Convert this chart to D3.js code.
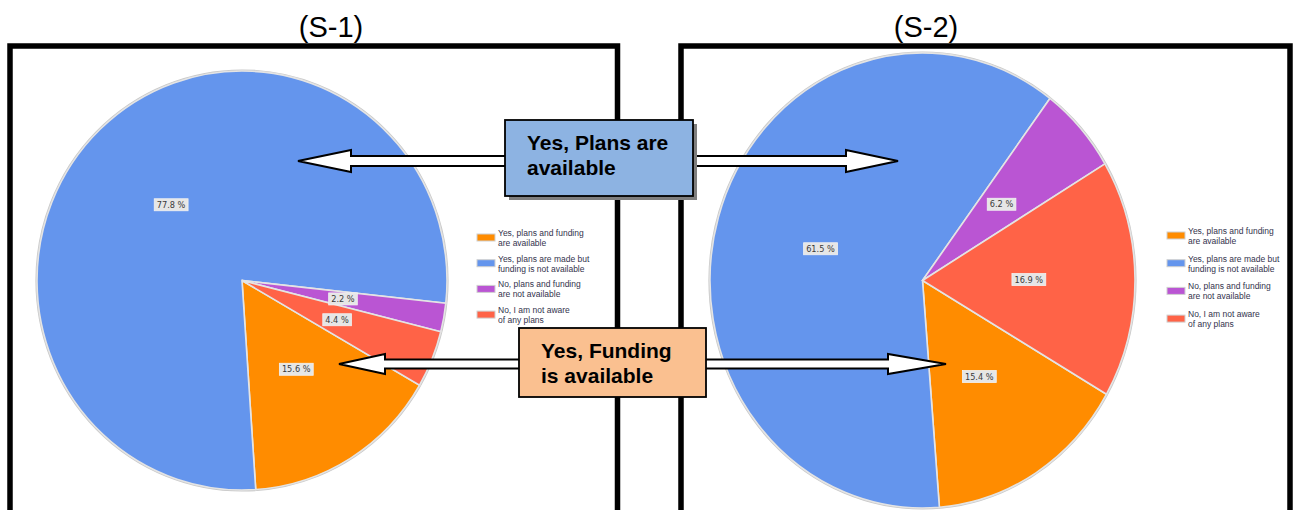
<!DOCTYPE html>
<html>
<head>
<meta charset="utf-8">
<script src="https://cdn.jsdelivr.net/npm/d3@7"></script>
<style>
  html, body { margin: 0; padding: 0; background: #ffffff; }
  svg { display: block; }
</style>
</head>
<body>
<svg id="chart" width="1294" height="510"></svg>
<script>
// ---------------- DATA ----------------
const categories = [
  "Yes, plans and funding are available",
  "Yes, plans are made but funding is not available",
  "No, plans and funding are not available",
  "No, I am not aware of any plans"
];
const legendLines = [
  ["Yes, plans and funding", "are available"],
  ["Yes, plans are made but", "funding is not available"],
  ["No, plans and funding", "are not available"],
  ["No, I am not aware", "of any plans"]
];
const s1Values = [15.6, 77.8, 2.2, 4.4];
const s2Values = [15.4, 61.5, 6.2, 16.9];
const panelTitles = ["(S-1)", "(S-2)"];
const plansCallout = ["Yes, Plans are", "available"];
const fundingCallout = ["Yes, Funding", "is available"];

// ---------------- STYLE / LAYOUT ----------------
const colors = ["#FF8C00", "#6495ED", "#BA55D3", "#FF6347"];
const color = d3.scaleOrdinal().domain(categories).range(colors);

const panels = [
  { values: s1Values, title: panelTitles[0], titleX: 331,
    frame: { x0: 10, x1: 617.5 },
    cx: 242, cy: 280.5, rx: 205, ry: 209.5, start: 120,
    legend: { x: 477, y: 234, step: 25.7 } },
  { values: s2Values, title: panelTitles[1], titleX: 926,
    frame: { x0: 681, x1: 1290 },
    cx: 922.5, cy: 280.5, rx: 212.5, ry: 227.5, start: 120,
    legend: { x: 1167, y: 232, step: 27.7 } }
];

const svg = d3.select("#chart");
const W = 1294, H = 510;
const frameTop = 46;

// frames
panels.forEach(p => {
  svg.append("path")
    .attr("d", `M${p.frame.x0},${H + 5} V${frameTop} H${p.frame.x1} V${H + 5}`)
    .attr("fill", "none")
    .attr("stroke", "#000")
    .attr("stroke-width", 5.5)
    .attr("stroke-linejoin", "miter");
  svg.append("text")
    .attr("x", p.titleX)
    .attr("y", 37)
    .attr("text-anchor", "middle")
    .attr("font-family", "Liberation Sans, Arial, sans-serif")
    .attr("font-size", 29)
    .attr("fill", "#000")
    .text(p.title);
});

// pies
panels.forEach(p => {
  const pie = d3.pie().sort(null)
    .startAngle(p.start * Math.PI / 180)
    .endAngle(p.start * Math.PI / 180 + 2 * Math.PI);
  const arcs = pie(p.values.map((v, i) => ({ cat: categories[i], value: v })).map(d => d.value));
  const arc = d3.arc().innerRadius(0).outerRadius(p.rx);
  const sy = p.ry / p.rx;

  const g = svg.append("g").attr("transform", `translate(${p.cx},${p.cy})`);
  // outer rim shadow
  g.append("ellipse")
    .attr("rx", p.rx + 0.5).attr("ry", p.ry + 0.5)
    .attr("fill", "none").attr("stroke", "#c9c9c9").attr("stroke-width", 2.2);

  const gs = g.append("g").attr("transform", `scale(1,${sy})`);
  gs.selectAll("path").data(arcs).join("path")
    .attr("d", arc)
    .attr("fill", (d, i) => color(categories[i]))
    .attr("stroke", "#e4e4e4")
    .attr("stroke-width", 1.6)
    .attr("vector-effect", "non-scaling-stroke");

  // labels
  arcs.forEach((d, i) => {
    const [x, y] = arc.centroid(d);
    const lg = g.append("g").attr("transform", `translate(${x},${y * sy})`);
    const t = lg.append("text")
      .attr("text-anchor", "middle")
      .attr("dy", "0.35em")
      .attr("font-family", "DejaVu Sans, sans-serif")
      .attr("font-size", 8.2)
      .attr("fill", "#3a3a3a")
      .text(d3.format(".1f")(p.values[i]) + " %");
    const bb = t.node().getBBox();
    lg.insert("rect", "text")
      .attr("x", bb.x - 2.5).attr("y", bb.y - 1)
      .attr("width", bb.width + 5).attr("height", bb.height + 2)
      .attr("fill", "#e6e6e6").attr("stroke", "#f2f2f2").attr("stroke-width", 0.8);
  });

  // legend
  const lg = svg.append("g").attr("transform", `translate(${p.legend.x},${p.legend.y})`);
  categories.forEach((c, i) => {
    const item = lg.append("g").attr("transform", `translate(0,${i * p.legend.step})`);
    item.append("rect")
      .attr("x", 0).attr("y", 0).attr("width", 18).attr("height", 7)
      .attr("fill", color(c)).attr("stroke", "#d0d0d0").attr("stroke-width", 1);
    legendLines[i].forEach((line, j) => {
      item.append("text")
        .attr("x", 21)
        .attr("y", 2 + j * 10)
        .attr("font-family", "Liberation Sans, Arial, sans-serif")
        .attr("font-size", 8.5)
        .attr("fill", "#33334d")
        .text(line);
    });
  });
});

// ---------------- CALLOUTS ----------------
function arrow(x0, tipX, y, headLen, shaftHalf, headHalf) {
  const dir = Math.sign(tipX - x0);
  const hx = tipX - dir * headLen;
  const pts = [
    [x0, y - shaftHalf], [hx, y - shaftHalf], [hx, y - headHalf],
    [tipX, y], [hx, y + headHalf], [hx, y + shaftHalf], [x0, y + shaftHalf]
  ];
  svg.append("path")
    .attr("d", d3.line()(pts) + "Z")
    .attr("fill", "#fff")
    .attr("stroke", "#000")
    .attr("stroke-width", 2)
    .attr("stroke-linejoin", "miter");
}

function callout(box, lines, fill, shadow) {
  if (shadow) {
    svg.append("rect")
      .attr("x", box.x + 4).attr("y", box.y + 4)
      .attr("width", box.w).attr("height", box.h)
      .attr("fill", "#7f7f7f");
  }
  svg.append("rect")
    .attr("x", box.x).attr("y", box.y)
    .attr("width", box.w).attr("height", box.h)
    .attr("fill", fill).attr("stroke", "#000").attr("stroke-width", 1.8);
  lines.forEach((l, i) => {
    svg.append("text")
      .attr("x", box.tx)
      .attr("y", box.ty + i * 24.5)
      .attr("font-family", "Liberation Sans, Arial, sans-serif")
      .attr("font-weight", "bold")
      .attr("font-size", 21)
      .attr("fill", "#000")
      .text(l);
  });
}

// plans arrows
arrow(506, 298, 161, 53, 5, 11);
arrow(693, 898, 161, 52, 5, 11);
callout({ x: 505, y: 120, w: 188, h: 76, tx: 527, ty: 150 }, plansCallout, "#8DB3E2", true);

// funding arrows
arrow(520, 339, 364, 46, 4.5, 10);
arrow(705, 946, 364, 58, 4.5, 10);
callout({ x: 519, y: 328, w: 187, h: 69, tx: 541, ty: 358 }, fundingCallout, "#FAC090", false);
</script>
</body>
</html>
